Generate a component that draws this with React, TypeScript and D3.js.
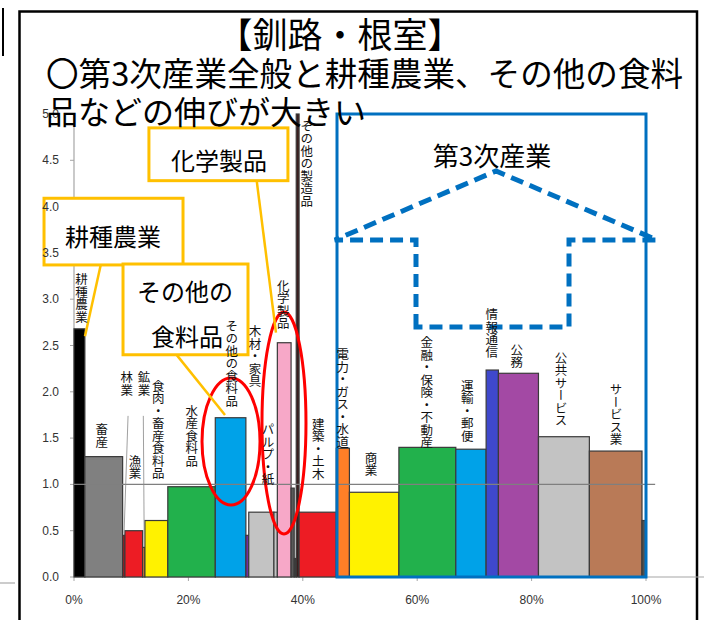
import React from 'react';
import * as d3 from 'd3';

// ---- data ----
const industries = [
  '耕種農業', '畜産', '林業', '漁業', '鉱業', '食肉・畜産食料品', '水産食料品', 'その他の食料品',
  '繊維', '木材・家具', 'パルプ・紙', '化学製品', '金属', '機械', 'その他の製造品', '建築・土木',
  '電力・ガス・水道', '商業', '金融・保険・不動産', '運輸・郵便', '情報通信', '公務', '公共サービス',
  'サービス業', '分類不明',
];
const shares = [
  1.9, 6.6, 0.4, 3.1, 0.4, 4.0, 8.3, 5.35,
  0.5, 4.4, 0.6, 2.4, 0.55, 0.35, 0.5, 6.5,
  2.3, 8.65, 9.95, 5.3, 2.15, 7.0, 8.9,
  9.2, 0.7,
];
const values = [
  2.68, 1.30, 0.45, 0.50, 0.32, 0.61, 0.975, 1.72,
  0.45, 0.70, 0.70, 2.53, 0.96, 0.20, 5.0, 0.70,
  1.39, 0.915, 1.40, 1.38, 2.235, 2.20, 1.515,
  1.36, 0.61,
];
const barColors = [
  '#000000', '#808080', '#9E1B22', '#ED1C24', '#E0803A', '#FFF200', '#22B14C', '#00A2E8',
  '#7030A0', '#C3C3C3', '#C3C3C3', '#F7A8C8', '#595959', '#404040', '#3B1E1E', '#ED1C24',
  '#FF7F27', '#FFF200', '#22B14C', '#00A2E8', '#3F48CC', '#A349A4', '#C3C3C3',
  '#B97A57', '#505050',
];

// category label anchors (x in % of cumulative share, top in index units)
const labelNames = [
  '耕種農業', '畜産', '林業', '漁業', '鉱業', '食肉・畜産食料品', '水産食料品', 'その他の食料品',
  '木材・家具', 'パルプ・紙', '化学製品', 'その他の製造品', '建築・土木', '電力・ガス・水道', '商業',
  '金融・保険・不動産', '運輸・郵便', '情報通信', '公務', '公共サービス', 'サービス業',
];
const labelX = [
  1.31, 4.84, 9.21, 10.66, 12.24, 14.74, 20.58, 27.57,
  31.64, 33.92, 36.59, 40.68, 42.71, 46.98, 51.92,
  61.66, 68.76, 73.03, 77.40, 85.14, 94.76,
];
const labelTop = [
  3.28, 1.66, 2.22, 1.32, 2.22, 2.13, 1.86, 2.78,
  2.72, 1.66, 3.21, 4.94, 1.72, 2.47, 1.35,
  2.60, 2.13, 2.90, 2.52, 2.43, 2.09,
];

const yTicks = [0, 0.5, 1, 1.5, 2, 2.5, 3, 3.5, 4, 4.5, 5];
const xTicks = [0, 20, 40, 60, 80, 100];

const titleLines = ['【釧路・根室】', '〇第3次産業全般と耕種農業、その他の食料', '品などの伸びが大きい'];

export default function App() {
  const W = 704, H = 620;
  const x = d3.scaleLinear().domain([0, 100]).range([74, 646]);
  const y = d3.scaleLinear().domain([0, 5]).range([577, 114]);
  const ends = Array.from(d3.cumsum(shares));
  const starts = ends.map((e, i) => e - shares[i]);

  const jp = '"Noto Sans CJK JP", "Noto Sans", sans-serif';
  const num = '"Liberation Sans", Arial, sans-serif';

  const line = d3.line<[number, number]>().x(d => x(d[0])).y(d => y(d[1]));
  const arrow: [number, number][] = [
    [59.79, 2.70], [59.79, 3.64], [45.6, 3.64], [73.78, 4.385], [101.9, 3.64], [86.54, 3.64], [86.54, 2.70],
  ];

  const callouts = [
    { lines: ['化学製品'], x0: 13.1, x1: 37.4, v0: 4.28, v1: 4.85, tx: [25.35], tv: [4.505],
      leader: [[31.94, 4.28], [35.31, 2.64]] as [number, number][] },
    { lines: ['耕種農業'], x0: -5.24, x1: 19.06, v0: 3.37, v1: 4.09, tx: [6.82], tv: [3.693],
      leader: [[4.67, 3.37], [1.92, 2.6]] as [number, number][] },
    { lines: ['その他の', '食料品'], x0: 8.57, x1: 30.42, v0: 2.40, v1: 3.38, tx: [19.4, 19.76], tv: [3.099, 2.613],
      leader: [[17.66, 2.42], [26.4, 1.75]] as [number, number][] },
  ];

  return (
    <svg width={W} height={H} style={{ position: 'absolute', left: 0, top: 0, background: '#fff' }}>
      <rect x={0} y={0} width={W} height={H} fill="#fff" />
      {/* outer slide frame */}
      <rect x={19.5} y={11.5} width={677.5} height={700} fill="none" stroke="#000" strokeWidth={2.5} />
      <line x1={3} x2={3} y1={8} y2={56} stroke="#000" strokeWidth={2} />
      <line x1={0} x2={15} y1={583} y2={583} stroke="#999" strokeWidth={1} />

      {/* axes */}
      <line x1={x(0)} x2={x(0)} y1={y(5)} y2={y(0)} stroke="#A6A6A6" strokeWidth={1.2} />
      {yTicks.map(t => (
        <line key={'yt' + t} x1={x(0) - 4} x2={x(0)} y1={y(t)} y2={y(t)} stroke="#A6A6A6" strokeWidth={1} />
      ))}
      <line x1={x(0)} x2={704} y1={y(0)} y2={y(0)} stroke="#A6A6A6" strokeWidth={1.2} />
      {xTicks.map(t => (
        <line key={'xt' + t} x1={x(t)} x2={x(t)} y1={y(0)} y2={y(0) + 4} stroke="#A6A6A6" strokeWidth={1} />
      ))}
      {xTicks.map(t => (
        <text key={'xl' + t} x={x(t)} y={604} fontSize={12} fontFamily={num} textAnchor="middle" fill="#333">{t + '%'}</text>
      ))}

      {/* bars */}
      {industries.map((n, i) => (
        <rect key={n} x={x(starts[i])} y={y(values[i])} width={x(ends[i]) - x(starts[i])}
          height={y(0) - y(values[i])} fill={barColors[i]} stroke="#3A3A3A" strokeWidth={1.2} />
      ))}
      {/* reference line at 1.0 */}
      <line x1={x(0)} x2={x(101.6)} y1={y(1)} y2={y(1)} stroke="#7F7F7F" strokeWidth={1.2} />

      {/* leader lines for thin bars */}
      <path d={line([[9.45, 1.74], [8.75, 0.47]]) || ''} stroke="#888" strokeWidth={0.8} fill="none" />
      <path d={line([[12.12, 1.74], [12.28, 0.33]]) || ''} stroke="#888" strokeWidth={0.8} fill="none" />

      {/* red ellipses */}
      <ellipse cx={x(27.45)} cy={y(1.463)} rx={29} ry={63.5} fill="none" stroke="#FF0000" strokeWidth={3} />
      <ellipse cx={x(36.71)} cy={y(1.663)} rx={22} ry={111} fill="none" stroke="#FF0000" strokeWidth={3} />

      {/* tertiary industry box */}
      <rect x={x(45.98)} y={y(5.0)} width={x(100) - x(45.98)} height={y(0) - y(5.0)} fill="none" stroke="#0070C0" strokeWidth={3} />
      <path d={(line(arrow) || '') + 'Z'} fill="none" stroke="#0070C0" strokeWidth={5} strokeDasharray="13 7" strokeLinejoin="miter" />
      <text x={x(73.08)} y={y(4.44)} fontSize={26} fontFamily={jp} textAnchor="middle" fill="#000">第3次産業</text>

      {/* callouts */}
      {callouts.map((c, i) => (
        <g key={'c' + i}>
          <path d={line(c.leader) || ''} stroke="#FFC000" strokeWidth={2.5} fill="none" />
          <rect x={x(c.x0)} y={y(c.v1)} width={x(c.x1) - x(c.x0)} height={y(c.v0) - y(c.v1)} fill="#fff" stroke="#FFC000" strokeWidth={3} />
          {c.lines.map((t, j) => (
            <text key={j} x={x(c.tx[j])} y={y(c.tv[j])} fontSize={24} fontFamily={jp} textAnchor="middle"
              dominantBaseline="central" fill="#000">{t}</text>
          ))}
        </g>
      ))}

      {/* category labels (vertical writing) */}
      {labelNames.map((n, i) => (
        <text key={'lab' + i} x={x(labelX[i])} y={y(labelTop[i])} fontSize={12.5} fontFamily={jp}
          style={{ writingMode: 'vertical-rl' }} fill="#111">{n}</text>
      ))}

      {/* y tick labels */}
      {yTicks.map(t => (
        <text key={'yl' + t} x={59} y={y(t) + 4} fontSize={12} fontFamily={num} textAnchor="end" fill="#333">{d3.format('.1f')(t)}</text>
      ))}

      {/* titles */}
      <text x={340} y={48} fontSize={35} fontFamily={jp} textAnchor="middle" fill="#000">{titleLines[0]}</text>
      <text x={46} y={86} fontSize={32.6} fontFamily={jp} fill="#000">{titleLines[1]}</text>
      <text x={46} y={124} fontSize={32} fontFamily={jp} fill="#000">{titleLines[2]}</text>
    </svg>
  );
}
